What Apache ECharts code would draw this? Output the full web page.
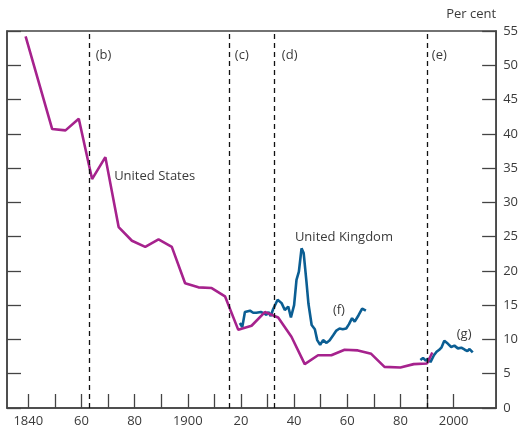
<!DOCTYPE html>
<html>
<head>
<meta charset="utf-8">
<script src="https://cdn.jsdelivr.net/npm/echarts@6/dist/echarts.min.js"></script>
<style>
  html, body { margin: 0; padding: 0; background: #fff; }
  #chart { width: 521px; height: 430px; }
</style>
</head>
<body>
<div id="chart"></div>
<script>
// capital ratios, per cent [year, value]
const usData = [
  [1839, 54.2], [1849, 40.7], [1854, 40.5], [1859, 42.2], [1864, 33.4], [1869, 36.6],
  [1874, 26.4], [1879, 24.4], [1884, 23.5], [1889, 24.6], [1894, 23.5], [1899, 18.2],
  [1904, 17.6], [1909, 17.5], [1914, 16.3], [1919, 11.4], [1924, 12.0], [1929, 14.0],
  [1934, 13.2], [1939, 10.4], [1944, 6.4], [1949, 7.7], [1954, 7.7], [1959, 8.5],
  [1964, 8.4], [1969, 7.9], [1974, 6.0], [1980, 5.9], [1985, 6.4], [1990, 6.5], [1992, 8.1]
];

const ukEarly = [
  [1919.6, 12.4], [1920.5, 11.8], [1921.5, 14.0], [1923.4, 14.2], [1924.6, 13.9],
  [1925.8, 13.9], [1927.5, 14.0], [1928.7, 13.8], [1929.6, 13.6], [1930.4, 14.0],
  [1931.2, 13.4], [1932.1, 14.4], [1933.8, 15.8], [1935.3, 15.3], [1936.5, 14.3],
  [1937.8, 14.8], [1938.8, 13.2], [1940.0, 15.0], [1940.9, 18.7], [1941.8, 19.9],
  [1942.8, 23.3], [1943.6, 22.6], [1944.7, 18.2], [1945.4, 15.2], [1946.6, 12.1],
  [1947.8, 11.5], [1948.7, 9.9], [1949.8, 9.2], [1950.9, 9.9], [1952.2, 9.5],
  [1953.4, 9.9], [1954.7, 10.6], [1955.9, 11.3], [1957.1, 11.6], [1958.3, 11.5],
  [1959.6, 11.6], [1960.6, 12.2], [1961.8, 13.1], [1962.8, 12.6], [1964.2, 13.5],
  [1965.6, 14.5], [1967.0, 14.2]
];

const ukModern = [
  [1987.5, 7.0], [1988.5, 7.3], [1989.5, 6.9], [1990.3, 7.2], [1991.3, 6.7],
  [1992.6, 7.7], [1993.6, 8.2], [1994.6, 8.5], [1995.4, 8.8], [1996.5, 9.8],
  [1997.8, 9.4], [1999.1, 8.9], [2000.3, 9.1], [2001.6, 8.7], [2002.9, 8.8],
  [2004.2, 8.5], [2005.2, 8.3], [2006.0, 8.6], [2007.2, 8.1]
];

// regime breaks (dashed lines)
const breakYears = [1863, 1915.5, 1932.5, 1990];

// text notes: [text, year, value]
const notes = [
  ["(b)", 1865.4, 51.5], ["(c)", 1917.7, 51.5], ["(d)", 1935.4, 51.5], ["(e)", 1991.8, 51.5],
  ["United States", 1872.3, 33.8], ["United Kingdom", 1940.3, 24.9],
  ["(f)", 1954.6, 14.3], ["(g)", 2001.2, 10.8]
];

const tickYears = [1840, 1850, 1860, 1870, 1880, 1890, 1900, 1910, 1920, 1930, 1940, 1950, 1960, 1970, 1980, 1990, 2000];
const labelYears = [1840, 1860, 1880, 1900, 1920, 1940, 1960, 1980, 2000];
const xLabels = ["1840", "60", "80", "1900", "20", "40", "60", "80", "2000"];

const FONT = "Open Sans";
const INK = "#3a3a3a";
const AXIS = "#444";

const chart = echarts.init(document.getElementById("chart"), null, { renderer: "canvas" });

const yBase = {
  type: "value",
  min: 0,
  max: 55,
  interval: 5,
  splitLine: { show: false },
  axisLine: { show: true, lineStyle: { color: AXIS, width: 1.5 } },
  axisTick: { show: true, inside: true, length: 14, lineStyle: { color: AXIS, width: 1.3 } }
};

chart.setOption({
  animation: false,
  backgroundColor: "#fff",
  textStyle: { fontFamily: FONT },
  grid: {
    left: 7, right: 24.5, top: 31, bottom: 22,
    show: true, borderColor: AXIS, borderWidth: 1.5
  },
  xAxis: {
    type: "value",
    min: 1832,
    max: 2016,
    splitLine: { show: false },
    axisLine: { show: true, lineStyle: { color: AXIS, width: 1.5 } },
    axisTick: {
      show: true, inside: true, length: 14, customValues: tickYears,
      lineStyle: { color: AXIS, width: 1.3 }
    },
    axisLabel: {
      customValues: labelYears,
      margin: 7,
      color: INK,
      fontSize: 13,
      fontFamily: FONT,
      formatter: (v) => xLabels[labelYears.indexOf(v)] || ""
    }
  },
  yAxis: [
    Object.assign({}, yBase, { position: "left", axisLabel: { show: false } }),
    Object.assign({}, yBase, {
      position: "right",
      name: "Per cent",
      nameLocation: "end",
      nameGap: 10,
      nameTextStyle: { color: INK, fontSize: 13, fontFamily: FONT, align: "right", padding: [0, 0, 0, 0] },
      axisLabel: { color: INK, fontSize: 13, fontFamily: FONT, margin: 7 }
    })
  ],
  series: [
    {
      name: "United States",
      type: "line",
      yAxisIndex: 1,
      data: usData,
      symbol: "none",
      lineStyle: { color: "#a6228d", width: 2.6 },
      z: 3,
      markLine: {
        silent: true,
        symbol: "none",
        label: { show: false },
        lineStyle: { color: "#111", type: [5, 4], width: 1.3 },
        data: breakYears.map((y) => ({ xAxis: y }))
      },
      markPoint: {
        silent: true,
        symbol: "circle",
        symbolSize: 0,
        label: {
          show: true,
          position: "right",
          distance: 0,
          color: INK,
          fontSize: 13,
          fontFamily: FONT,
          formatter: (p) => p.name
        },
        data: notes.map((n) => ({ name: n[0], coord: [n[1], n[2]] }))
      }
    },
    {
      name: "United Kingdom",
      type: "line",
      yAxisIndex: 1,
      data: ukEarly,
      symbol: "none",
      lineStyle: { color: "#0b5e93", width: 2.6 },
      z: 2
    },
    {
      name: "United Kingdom (recent)",
      type: "line",
      yAxisIndex: 1,
      data: ukModern,
      symbol: "none",
      lineStyle: { color: "#0b5e93", width: 2.6 },
      z: 2
    }
  ]
});
</script>
</body>
</html>
